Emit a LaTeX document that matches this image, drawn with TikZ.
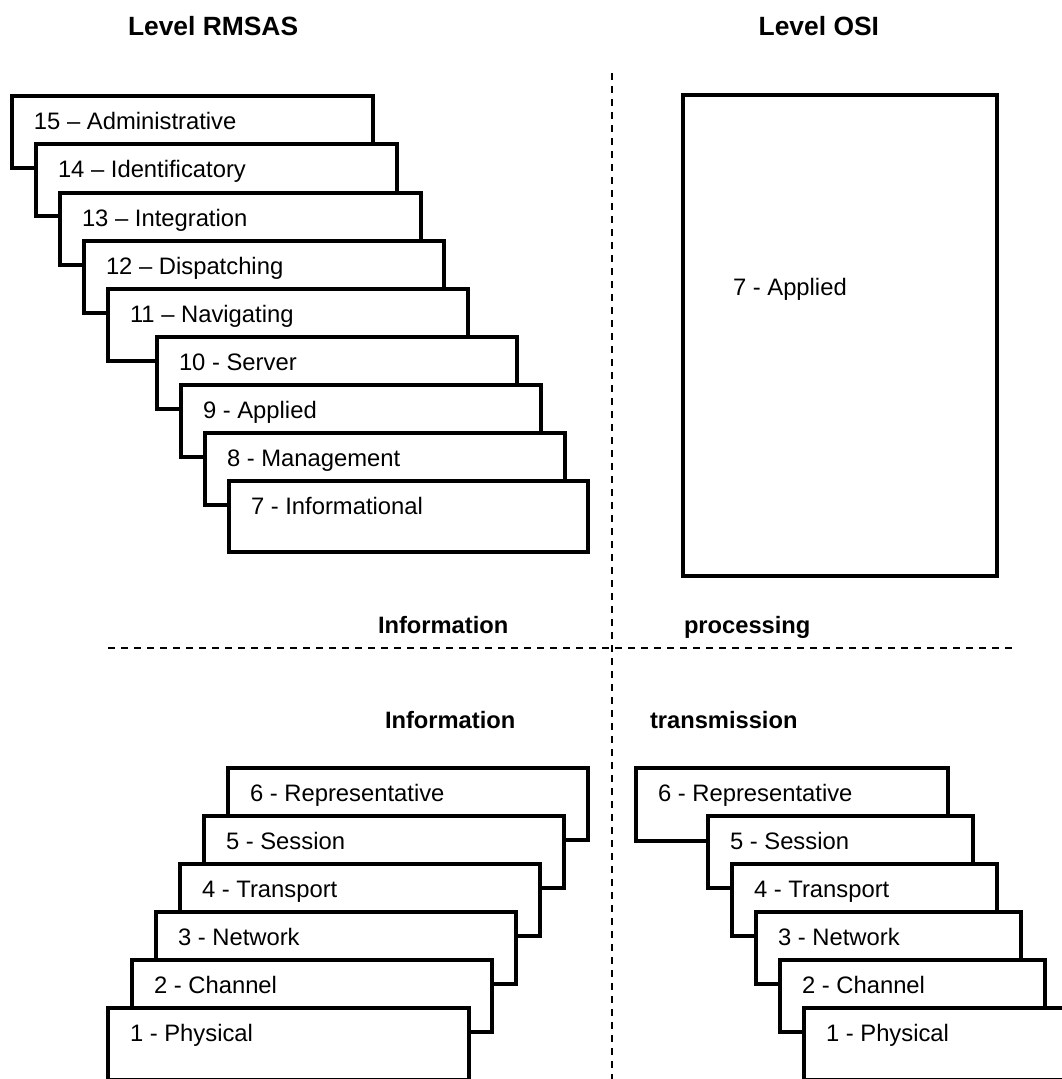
\documentclass[tikz,border=0pt]{standalone}
\usepackage{fontspec}
\setmainfont{Liberation Sans}
\tikzset{
  layerbox/.style={draw, line width=3.8pt, fill=white, rectangle, anchor=north west,
    inner sep=0pt, outer sep=0pt, line join=miter},
  lbl/.style={anchor=base west, inner sep=0pt, outer sep=0pt, font=\fontsize{23.8}{28}\selectfont},
  headlbl/.style={inner sep=0pt, outer sep=0pt, font=\fontsize{23.7}{28}\selectfont\bfseries},
  titlelbl/.style={inner sep=0pt, outer sep=0pt, font=\fontsize{26.4}{30}\selectfont\bfseries},
  divider/.style={line width=2pt, dash pattern=on 7pt off 6pt}
}
\newcommand\layerbox[6]{%
  \node[layerbox, minimum width=#4pt, minimum height=#5pt] (#1) at (#2,#3) {};
  \node[lbl] (#1t) at ([xshift=22pt,yshift=-33pt]#1.north west) {#6};
}
\begin{document}
\begin{tikzpicture}[x=1pt,y=-1pt]
\useasboundingbox (0,0) rectangle (1062,1079);
\clip (0,0) rectangle (1062,1079);
\fill[white] (0,0) rectangle (1062,1079);

% headings
\node[titlelbl, anchor=base west] (hr) at (128,35) {Level RMSAS};
\node[titlelbl, anchor=base east] (ho) at (879,35) {Level OSI};
\node[headlbl, anchor=base west] (ip) at (378,633) {Information};
\node[headlbl, anchor=base west] (pp) at (684,633) {processing};
\node[headlbl, anchor=base west] (it) at (385,728) {Information};
\node[headlbl, anchor=base west] (tt) at (650,728) {transmission};

% dividers
\coordinate (vtop) at (612,73);
\coordinate (vbot) at (612,1079);
\coordinate (hl) at (108,648);
\coordinate (hr2) at (1017,648);
\draw[divider] (vtop) -- (vbot);
\draw[divider] (hl) -- (hr2);

% RMSAS stack
\layerbox{r15}{12}{96}{361}{72}{15 – Administrative}
\layerbox{r14}{36}{144}{361}{72}{14 – Identificatory}
\layerbox{r13}{60}{193}{361}{72}{13 – Integration}
\layerbox{r12}{84}{241}{360}{72}{12 – Dispatching}
\layerbox{r11}{108}{289}{360}{72}{11 – Navigating}
\layerbox{r10}{157}{337}{360}{72}{10 - Server}
\layerbox{r9}{181}{385}{360}{72}{9 - Applied}
\layerbox{r8}{205}{433}{360}{72}{8 - Management}
\layerbox{r7}{229}{481}{359}{71}{7 - Informational}

% OSI application box
\node[layerbox, minimum width=314pt, minimum height=481pt] (o7) at (683,95) {};
\node[lbl] (o7t) at (733,295) {7 - Applied};

% lower-left stack
\layerbox{a6}{228}{768}{360}{72}{6 - Representative}
\layerbox{a5}{204}{816}{360}{72}{5 - Session}
\layerbox{a4}{180}{864}{360}{72}{4 - Transport}
\layerbox{a3}{156}{912}{360}{72}{3 - Network}
\layerbox{a2}{132}{960}{360}{72}{2 - Channel}
\layerbox{a1}{108}{1008}{361}{72}{1 - Physical}

% lower-right stack
\layerbox{b6}{636}{768}{312}{73}{6 - Representative}
\layerbox{b5}{708}{816}{265}{72}{5 - Session}
\layerbox{b4}{732}{864}{265}{72}{4 - Transport}
\layerbox{b3}{756}{912}{265}{72}{3 - Network}
\layerbox{b2}{780}{960}{265}{72}{2 - Channel}
\layerbox{b1}{804}{1008}{265}{72}{1 - Physical}
\end{tikzpicture}
\end{document}
